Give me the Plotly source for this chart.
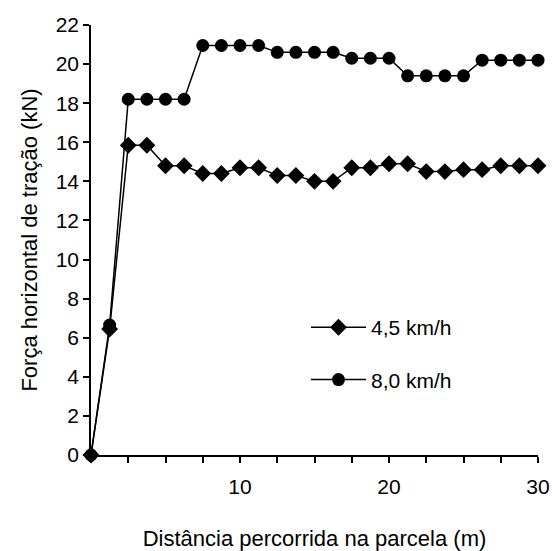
import plotly.graph_objects as go

distance_m = [0, 1.25, 2.5, 3.75, 5, 6.25, 7.5, 8.75, 10, 11.25, 12.5, 13.75, 15,
              16.25, 17.5, 18.75, 20, 21.25, 22.5, 23.75, 25, 26.25, 27.5, 28.75, 30]
force_45 = [0, 6.45, 15.85, 15.85, 14.8, 14.8, 14.4, 14.4, 14.7, 14.7, 14.3, 14.3, 14.0,
            14.0, 14.7, 14.7, 14.9, 14.9, 14.5, 14.5, 14.6, 14.6, 14.8, 14.8, 14.8]
force_80 = [0, 6.65, 18.2, 18.2, 18.2, 18.2, 20.95, 20.95, 20.95, 20.95, 20.6, 20.6, 20.6,
            20.6, 20.3, 20.3, 20.3, 19.4, 19.4, 19.4, 19.4, 20.2, 20.2, 20.2, 20.2]
series_names = ["4,5 km/h", "8,0 km/h"]
x_tickvals = [2.5, 5, 7.5, 10, 12.5, 15, 17.5, 20, 22.5, 25, 27.5, 30]
x_ticktext = ["", "", "", "10", "", "", "", "20", "", "", "", "30"]
y_tickvals = [0, 2, 4, 6, 8, 10, 12, 14, 16, 18, 20, 22]

FONT = "Liberation Sans, Arial, sans-serif"

fig = go.Figure()
fig.add_trace(go.Scatter(
    x=distance_m, y=force_45, name=series_names[0], mode="lines+markers",
    line=dict(color="black", width=1.5),
    marker=dict(symbol="diamond", size=13, color="black"),
    cliponaxis=False, legendgroup="a"))
fig.add_trace(go.Scatter(
    x=distance_m, y=force_80, name=series_names[1], mode="lines+markers",
    line=dict(color="black", width=1.5),
    marker=dict(symbol="circle", size=13, color="black"),
    cliponaxis=False, legendgroup="b"))

fig.update_layout(
    width=552, height=551,
    margin=dict(l=91, r=14, t=25, b=96, autoexpand=False),
    paper_bgcolor="white", plot_bgcolor="white",
    font=dict(family=FONT, size=21, color="black"),
    showlegend=True,
    legend=dict(x=0.481, y=0.344, xanchor="left", yanchor="top",
                traceorder="grouped", tracegroupgap=22, itemwidth=55,
                font=dict(family=FONT, size=21, color="black"),
                bgcolor="rgba(0,0,0,0)"),
    xaxis=dict(range=[0, 30], tickmode="array", tickvals=x_tickvals, ticktext=x_ticktext,
               ticks="outside", ticklen=6, tickwidth=1.5, tickcolor="black",
               showline=True, linecolor="black", linewidth=1.5,
               showgrid=False, zeroline=False, ticklabelstandoff=6,
               title=dict(text="Distância percorrida na parcela (m)",
                          font=dict(family=FONT, size=22), standoff=35),
               automargin=False),
    yaxis=dict(range=[0, 22], tickmode="array", tickvals=y_tickvals,
               ticks="outside", ticklen=6, tickwidth=1.5, tickcolor="black",
               showline=True, linecolor="black", linewidth=1.5,
               showgrid=False, zeroline=False,
               title=dict(text="Força horizontal de tração (kN)",
                          font=dict(family=FONT, size=22), standoff=12),
               automargin=False),
)

fig.write_html("out.html")
